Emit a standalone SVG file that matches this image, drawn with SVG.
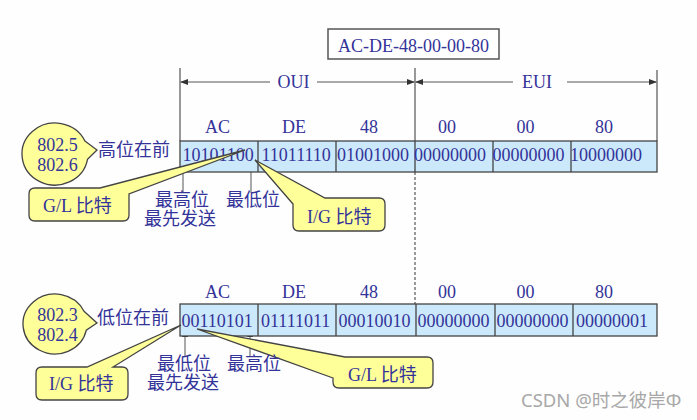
<svg xmlns="http://www.w3.org/2000/svg" width="697" height="420" viewBox="0 0 697 420">
<defs>
<marker id="ah" markerUnits="userSpaceOnUse" markerWidth="8" markerHeight="6" refX="7" refY="3" orient="auto">
<path d="M0,0 L8,3 L0,6 Z" fill="#333"/>
</marker>
</defs>
<style>
.t{font-family:"Liberation Serif","Noto Sans CJK SC",serif;font-size:18px;fill:#333399}
.m{text-anchor:middle}
.cell{fill:#cce9fb;stroke:#444;stroke-width:1.3}
.div{stroke:#444;stroke-width:1.3;fill:none}
.call{fill:#ffff99;stroke:#444;stroke-width:1.3}
.ln{stroke:#333;stroke-width:1;fill:none}
.arr{stroke:#555;stroke-width:1;fill:none;marker-end:url(#ah)}
</style>
<rect width="697" height="420" fill="#fefefe"/>

<g id="title">
<rect x="328" y="29" width="171" height="30" fill="#ffffff" stroke="#555" stroke-width="1.5"/>
<text class="t m" x="413.5" y="52">AC-DE-48-00-00-80</text>
</g>

<g id="connectors">
<line class="ln" x1="180" y1="68" x2="180" y2="141"/>
<line class="ln" x1="415" y1="68" x2="415" y2="141"/>
<line class="ln" x1="657" y1="70" x2="657" y2="141"/>
<line class="arr" x1="270" y1="82" x2="181" y2="82"/>
<line class="arr" x1="317" y1="82" x2="414" y2="82"/>
<line class="arr" x1="513" y1="82" x2="416" y2="82"/>
<line class="arr" x1="567" y1="82" x2="656" y2="82"/>
<line x1="415" y1="172" x2="415" y2="304" stroke="#555" stroke-width="1.2" stroke-dasharray="3,2"/>
<line class="arr" x1="183" y1="193" x2="183" y2="165"/>
<line class="arr" x1="251" y1="193" x2="251" y2="165"/>
<line class="arr" x1="185" y1="356" x2="185" y2="330"/>
<line class="arr" x1="250" y1="356" x2="250" y2="330"/>
</g>

<g id="oui-label"><text class="t m" x="293.5" y="88">OUI</text></g>
<g id="eui-label"><text class="t m" x="537" y="88">EUI</text></g>

<g id="top-headers">
<text class="t m" x="217.5" y="132.5">AC</text>
<text class="t m" x="294" y="132.5">DE</text>
<text class="t m" x="369" y="132.5">48</text>
<text class="t m" x="447" y="132.5">00</text>
<text class="t m" x="525.5" y="132.5">00</text>
<text class="t m" x="604" y="132.5">80</text>
</g>

<g id="top-row">
<rect class="cell" x="180" y="141" width="477" height="31"/>
<path class="div" d="M258,141V172M336,141V172M415,141V172M493,141V172M571,141V172"/>
<text class="t" x="182.5" y="161">10101100</text>
<text class="t" x="261.5" y="161">11011110</text>
<text class="t" x="337" y="161">01001000</text>
<text class="t" x="414" y="161">00000000</text>
<text class="t" x="492.5" y="161">00000000</text>
<text class="t" x="570" y="161">10000000</text>
</g>

<g id="top-circle">
<path class="call" d="M84.9,140.9 L97,150 L87.5,159.4 A33,31 0 1 1 84.9,140.9 Z"/>
<text class="t m" x="57.5" y="150.5">802.5</text>
<text class="t m" x="57.5" y="170.5">802.6</text>
</g>
<g id="top-order"><text class="t" x="98" y="155.5">高位在前</text></g>

<g id="top-gl">
<path class="call" d="M35,188 H100 L245,150 L129,194 V215 Q129,221 123,221 H35 Q29,221 29,215 V194 Q29,188 35,188 Z"/>
<text class="t" x="43" y="212">G/L 比特</text>
</g>
<g id="top-ig">
<path class="call" d="M293,204 L255,160 L325,198 H379 Q385,198 385,204 V225 Q385,231 379,231 H299 Q293,231 293,225 Z"/>
<text class="t" x="307" y="222.5">I/G 比特</text>
</g>
<g id="top-msb">
<text class="t" x="155" y="205.5">最高位</text>
<text class="t" x="144" y="224.5">最先发送</text>
</g>
<g id="top-lsb"><text class="t" x="226" y="205.5">最低位</text></g>

<g id="bottom-headers">
<text class="t m" x="217.5" y="298">AC</text>
<text class="t m" x="294" y="298">DE</text>
<text class="t m" x="369" y="298">48</text>
<text class="t m" x="447" y="298">00</text>
<text class="t m" x="525.5" y="298">00</text>
<text class="t m" x="604" y="298">80</text>
</g>

<g id="bottom-row">
<rect class="cell" x="180" y="304" width="477" height="32"/>
<path class="div" d="M258,304V336M336,304V336M416,304V336M495,304V336M573,304V336"/>
<text class="t" x="181.5" y="327">00110101</text>
<text class="t" x="261" y="327">01111011</text>
<text class="t" x="338.5" y="327">00010010</text>
<text class="t" x="417.5" y="327">00000000</text>
<text class="t" x="496.5" y="327">00000000</text>
<text class="t" x="576" y="327">00000001</text>
</g>

<g id="bottom-circle">
<path class="call" d="M84,311.3 L97,323 L86.3,330.2 A32,30 0 1 1 84,311.3 Z"/>
<text class="t m" x="57.5" y="321">802.3</text>
<text class="t m" x="57.5" y="341">802.4</text>
</g>
<g id="bottom-order"><text class="t" x="97" y="324">低位在前</text></g>

<g id="bottom-ig">
<path class="call" d="M42,367 H87 L181,325 L113,367 H122 Q128,367 128,373 V394 Q128,400 122,400 H42 Q36,400 36,394 V373 Q36,367 42,367 Z"/>
<text class="t" x="49" y="390">I/G 比特</text>
</g>
<g id="bottom-gl">
<path class="call" d="M333,378 L197,329 L345,357 H427 Q433,357 433,363 V382 Q433,388 427,388 H339 Q333,388 333,382 Z"/>
<text class="t" x="348" y="380.5">G/L 比特</text>
</g>
<g id="bottom-lsb">
<text class="t" x="157" y="369.5">最低位</text>
<text class="t" x="147" y="388.5">最先发送</text>
</g>
<g id="bottom-msb"><text class="t" x="227" y="369.5">最高位</text></g>

<text x="521" y="407" font-family="'Noto Sans','Noto Sans CJK SC',sans-serif" font-size="18.5" fill="#a8a8a8">CSDN @时之彼岸Φ</text>
</svg>
